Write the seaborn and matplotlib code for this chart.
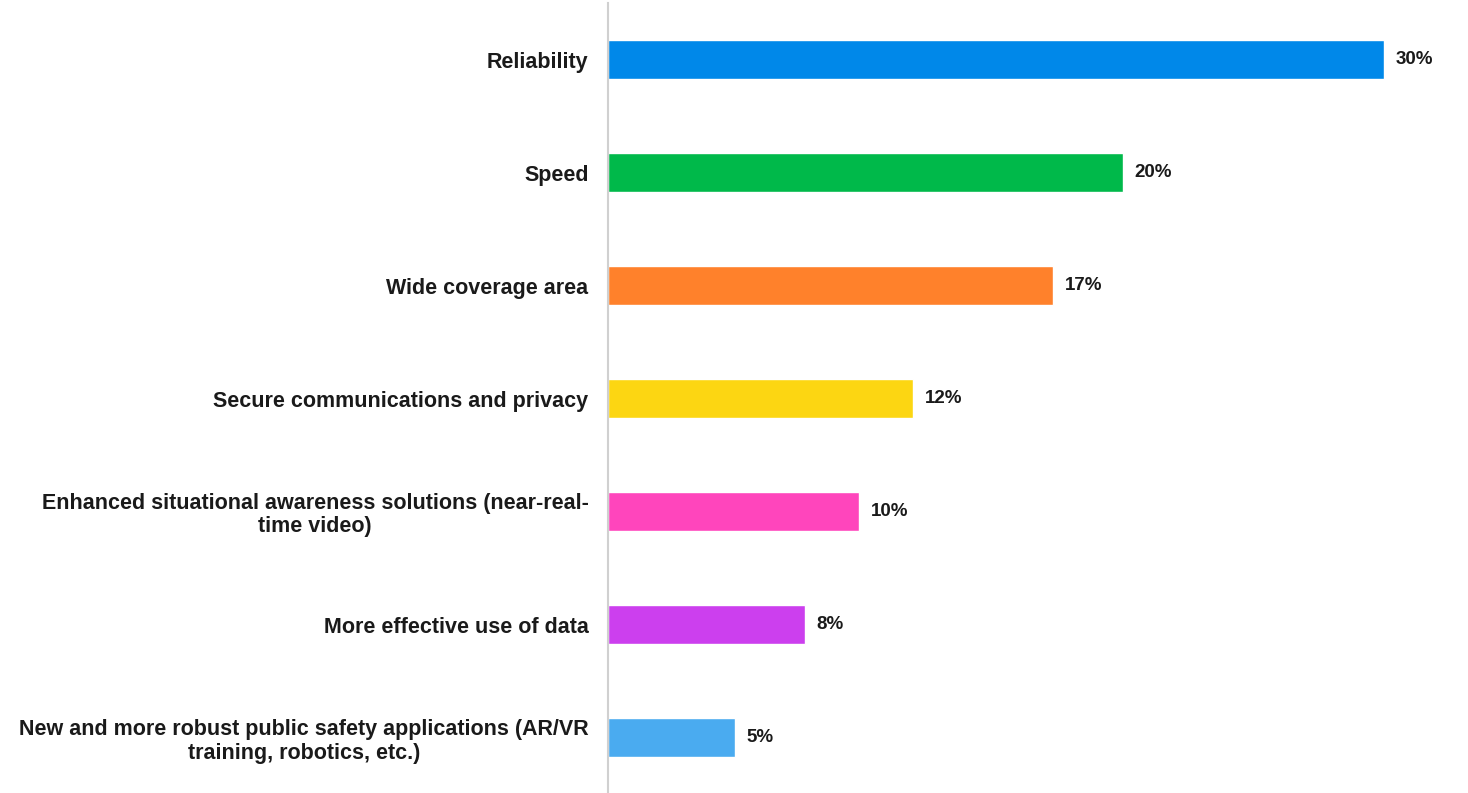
import numpy as np
import pandas as pd
import matplotlib
matplotlib.use("Agg")
import matplotlib.pyplot as plt
import seaborn as sns

#%% Data
categories = [
    "Reliability",
    "Speed",
    "Wide coverage area",
    "Secure communications and privacy",
    "Enhanced situational awareness solutions (near-real-\ntime video)",
    "More effective use of data",
    "New and more robust public safety applications (AR/VR\ntraining, robotics, etc.)",
]
shares = [30.0, 19.9, 17.2, 11.8, 9.7, 7.6, 4.9]  # percent
colors = ["#0088E9", "#00B94A", "#FF812B", "#FCD612", "#FF45BC", "#CC3FEE", "#4AABF0"]

df = pd.DataFrame({"cat": categories, "share": shares})

#%% Plot
sns.set_theme(style="white")
plt.rcParams["font.family"] = ["Liberation Sans", "DejaVu Sans"]

fig = plt.figure(figsize=(14.68, 7.93), dpi=100)
ax = fig.add_axes([608 / 1468, 0, (1462 - 608) / 1468, 790 / 793])

sns.barplot(data=df, x="share", y="cat", hue="cat", palette=colors,
            legend=False, width=0.35, saturation=1, ax=ax)

for i, v in enumerate(shares):
    ax.text(v + 0.45, i, f"{round(v):.0f}%", va="center", ha="left",
            fontsize=13.5, fontweight="bold", color="#1a1a1a")

ax.set_xlim(0, 33)
ax.set_ylim(6.49, -0.5)
ax.set_xlabel("")
ax.set_ylabel("")
ax.set_xticks([])
ax.tick_params(axis="y", length=0, pad=14)
for lab in ax.get_yticklabels():
    lab.set_fontsize(15.5)
    lab.set_fontweight("bold")
    lab.set_color("#1a1a1a")
    lab.set_multialignment("center")
    lab.set_linespacing(1.15)

for s in ["top", "right", "bottom"]:
    ax.spines[s].set_visible(False)
ax.spines["left"].set_color("#d0d0d0")
ax.spines["left"].set_linewidth(1.5)

fig.savefig("out.png", dpi=100)
